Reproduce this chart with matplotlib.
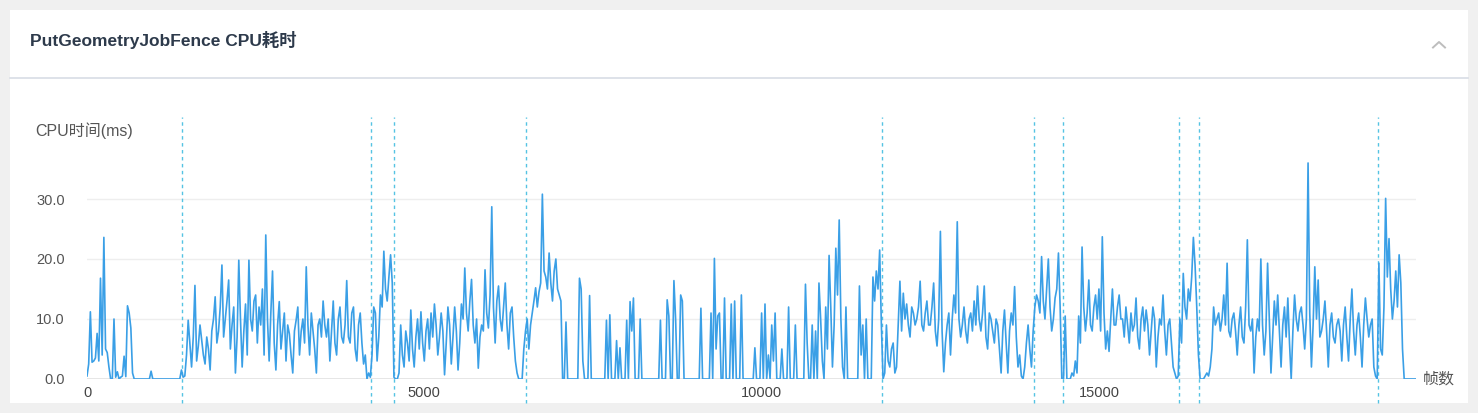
import matplotlib
matplotlib.use("Agg")
import matplotlib.pyplot as plt
from matplotlib.lines import Line2D
from matplotlib.patches import Rectangle
import numpy as np

plt.rcParams['font.family'] = ['Liberation Sans', 'Noto Sans CJK SC', 'DejaVu Sans']

# ---- data: CPU time (ms), one reading every 25 frames, estimated from the chart ----
FRAME_STEP = 25
# frames 0 - 1425: short burst, then idle
cpu_a = [0.5, 2.5, 11.2, 2.8, 3, 3.5, 7.6, 3, 16.8, 4, 23.6, 5, 4.4, 2, 0, 0, 10, 0.3, 1.2, 0,
         0.3, 0.5, 3.8, 0.4, 12.2, 11, 8.5, 1, 0, 0, 0, 0, 0, 0, 0, 0, 0, 0, 1.3, 0,
         0, 0, 0, 0, 0, 0, 0, 0, 0, 0, 0, 0, 0, 0, 0, 0, 1.5, 0.3]
# frames 1450 - 2525
cpu_b = [0.5, 4, 9.8, 6, 2, 7, 15.6, 3, 5.5, 9, 6.5, 4, 2.5, 7, 5, 1.5, 8, 10, 13.7, 6,
         8, 12, 19, 7, 10, 13, 16.5, 5, 9, 12, 1, 7, 19.8, 10, 2, 8, 12.5, 4, 19.8, 10,
         8, 13, 14, 6]
# frames 2550 - 4925
cpu_c = [12, 9, 15, 4, 24, 10, 3, 11, 18, 6, 1.5, 9, 12.9, 5, 8, 11, 3, 9, 7.5, 4,
         1, 8, 9.8, 12, 4, 8, 10, 6, 18.7, 9, 4, 11, 8, 5, 1, 9, 10, 7, 13, 9,
         7, 10, 3, 8, 13, 6, 4, 10, 12, 7, 6, 9, 16.4, 7, 6, 11, 12, 5, 3, 9,
         11, 6, 2.5, 4, 0, 1, 0.3, 4, 12, 11, 3, 7, 14, 12, 21.3, 15, 13, 17, 20.7, 16,
         0.3, 0, 0, 1, 9, 4, 2, 8, 6, 3, 11.5, 5, 2, 7, 10, 5]
# frames 4950 - 7375
cpu_d = [11.2, 6, 3, 8, 10, 5, 11, 7, 12.5, 9, 4, 7, 11, 8, 0.7, 6, 12, 9, 2.5, 7,
         12, 8, 1.5, 6, 12.5, 10, 18.5, 11, 8, 13, 16.6, 9, 6, 10, 1.8, 7, 9, 8, 18.2, 11,
         8.5, 14, 28.7, 12, 6, 13, 15.5, 10, 8, 12, 16, 9, 5, 11, 12, 7, 3, 1, 0, 0,
         0, 5, 8, 10, 5, 9, 11, 13, 15.2, 12, 14.5, 16, 30.8, 18, 17, 15, 21, 16, 13, 18,
         20, 15, 14, 13, 0, 0, 9.5, 0, 0, 0, 0, 0, 0, 0, 16.8, 15, 3, 0]
# frames 7400 - 9875: sparse spikes
cpu_e = [0, 0, 13.9, 0, 0, 0, 0, 0, 0, 0, 0, 0, 9.8, 0, 10.7, 0, 0, 0, 6.4, 0,
         5.2, 0, 0, 0, 9.8, 0, 12.9, 8, 13.5, 0, 0, 0, 10, 0, 0, 0, 0, 0, 0, 0,
         0, 0, 0, 0, 9.8, 0, 0, 0, 13.2, 10.5, 0, 0, 16.4, 10, 0, 0, 14, 13, 0, 0,
         0, 0, 0, 0, 0, 0, 0, 0, 11.8, 0, 0, 0, 0, 0, 11, 0, 20.1, 5, 10.5, 11,
         0, 0, 13.5, 0, 0, 0, 12.5, 0, 13, 0, 0, 0, 14, 0, 0, 0, 0, 0, 0, 0]
# frames 9900 - 12375
cpu_f = [5.2, 0, 0, 0, 11, 0, 12.5, 0, 4, 0, 9, 3, 11, 0, 0, 0, 5, 0, 0, 0,
         12, 0, 0, 0, 9, 0, 0, 0, 0, 0, 15.8, 6, 0, 0, 9, 0, 8, 0, 16, 10,
         3, 0, 12, 5, 20.6, 12, 2, 9, 21.8, 14, 26.5, 10, 2, 0, 12, 0, 0, 0, 0, 0,
         0, 0, 15.5, 4, 9, 0, 10, 0, 0, 0, 17, 13, 18, 15, 21.5, 9, 0, 1, 9, 3,
         2, 5, 6, 1, 2, 9, 16.3, 8, 14.3, 10, 12.5, 9, 7, 12, 11, 9, 10, 12, 16.3, 9]
# frames 12400 - 14875
cpu_g = [8, 11, 13, 9, 9, 12, 16, 8, 5.5, 10, 24.6, 8, 1.2, 6, 9, 11, 4, 10, 14, 11,
         26.2, 10, 7, 9, 12, 8, 6, 10, 11, 8, 13, 9, 15.5, 10, 8, 11, 15.5, 7, 5, 11,
         10, 8, 6, 10, 9, 5, 1, 8, 11.5, 6, 1, 8, 11, 9, 15.4, 7, 2, 4, 0.5, 0,
         2, 6, 9, 5, 2, 8, 12, 14, 13, 11, 20.4, 13, 10, 15, 20, 12, 8, 10, 13.5, 15,
         21, 12, 0, 0, 10.5, 0, 0, 0, 1, 0.5, 3, 1, 10.5, 6, 22, 12, 8, 11, 16.5, 9]
# frames 14900 - 17375
cpu_h = [8, 12, 14, 10, 15, 8, 23.7, 11, 5, 8, 4.6, 10, 15, 9, 9, 12, 14, 10, 10, 7,
         12, 9, 6, 11, 8, 9, 13.5, 7, 5, 10, 12, 8, 11.5, 9, 4, 8, 12, 10, 2, 7,
         10, 9, 14, 8, 4, 9, 10, 6, 2, 1, 0, 0.5, 10, 6, 17.6, 12, 10, 15, 13, 17,
         23.6, 19, 12, 4, 0, 0, 0, 0.5, 1, 0.5, 2, 5, 12, 9, 10, 11, 8, 10, 14, 9,
         19.3, 8, 7, 10, 11, 8, 4, 9, 12, 7, 6, 12, 23.2, 9, 8, 10, 1, 7, 10, 8]
# frames 17400 - 19700
cpu_i = [20, 9, 4, 8, 19.3, 10, 1, 7, 13, 9, 14, 8, 2, 9, 12, 7, 13.5, 6, 0, 8,
         14, 10, 8, 11, 12, 9, 5, 10, 36, 11, 2, 9, 18.7, 10, 16.5, 7, 8, 10, 13, 8,
         2, 9, 11, 7, 6, 9, 10, 8, 3, 9, 12, 7, 3, 10, 15, 8, 4, 9, 11, 7,
         2, 9, 13.5, 10, 7, 9, 10, 2, 0.5, 0, 19.3, 5, 4, 12, 30.1, 17, 23.4, 15, 10, 13,
         18, 12, 20.7, 16, 5, 0, 0, 0, 0, 0, 0, 0, 0]

# frames where scene switches are marked (dashed vertical lines)
mark_frames = [1410, 4210, 4550, 6500, 11780, 14040, 14470, 16190, 16490, 19130]

y_ticks = [0, 10, 20, 30]
x_ticks = [0, 5000, 10000, 15000]

cpu = np.array(cpu_a + cpu_b + cpu_c + cpu_d + cpu_e + cpu_f + cpu_g + cpu_h + cpu_i)
frames = np.arange(len(cpu)) * FRAME_STEP

W, H = 1478, 413
fig = plt.figure(figsize=(W / 100, H / 100), dpi=100)
fig.patch.set_facecolor("#f0f0f0")

# white card + header
fig.add_artist(Rectangle((10 / W, 1 - 403 / H), 1458 / W, 393 / H, transform=fig.transFigure,
                         facecolor="white", edgecolor="none", zorder=0))
fig.add_artist(Line2D([10 / W, 1468 / W], [1 - 77.5 / H] * 2, color="#d8dde5", lw=1.2))
fig.text(30 / W, 1 - 40 / H, "PutGeometryJobFence CPU耗时", fontsize=12.5, fontweight="bold",
         color="#2d3a4b", ha="left", va="center")
fig.add_artist(Line2D([1433 / W, 1439 / W, 1445 / W], [1 - 47.5 / H, 1 - 42 / H, 1 - 47.5 / H],
                      color="#bdbdbd", lw=1.4))

# plot area
ax_left, ax_right, ax_bottom, ax_top = 87, 1416, 379, 117
ax = fig.add_axes([ax_left / W, 1 - ax_bottom / H, (ax_right - ax_left) / W,
                   (ax_bottom - ax_top) / H])
ax.set_facecolor("none")
ax.set_xlim(0, frames[-1])
ax.set_ylim(0, (ax_bottom - ax_top) / 6.0)

for y in y_ticks[1:]:
    ax.axhline(y, color="#eeeeee", lw=1, zorder=1)
ax.axhline(0, color="#e2e2e2", lw=1.2, zorder=1)

ax.plot(frames, cpu, color="#3a9fe6", lw=1.2, zorder=3)

ext = (403 - ax_bottom) / (ax_bottom - ax_top)
ax.vlines(mark_frames, -ext, 1, transform=ax.get_xaxis_transform(), colors="#55c3e3",
          linestyles=(0, (2.5, 2.5)), lw=1, clip_on=False, zorder=2)

for s in ax.spines.values():
    s.set_visible(False)
ax.set_yticks(y_ticks)
ax.set_yticklabels([f"{v:.1f}" for v in y_ticks])
ax.set_xticks(x_ticks)
ax.set_xticklabels([str(v) for v in x_ticks])
ax.tick_params(axis="y", length=0, pad=16, labelsize=10.5, labelcolor="#555555")
ax.tick_params(axis="x", length=0, pad=5, labelsize=10.5, labelcolor="#444444")

fig.text(35 / W, 1 - 130.5 / H, "CPU时间(ms)", fontsize=11.5, color="#555555",
         ha="left", va="center")
fig.text(1423 / W, 1 - 379 / H, "帧数", fontsize=11.5, color="#555555", ha="left", va="center")

fig.savefig("out.png", dpi=100, facecolor=fig.get_facecolor())
